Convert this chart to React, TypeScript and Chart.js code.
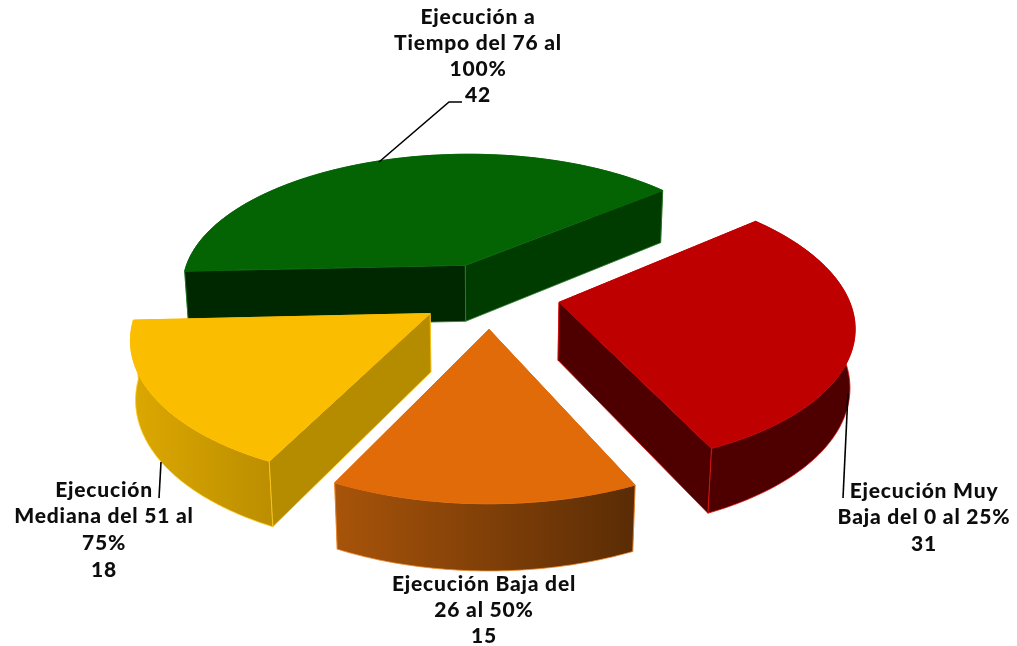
import React, { useEffect, useRef } from "react";
import { Chart, registerables } from "chart.js";

Chart.register(...registerables);

const categories = ["Ejecución Muy Baja del 0 al 25%", "Ejecución Baja del 26 al 50%", "Ejecución Mediana del 51 al 75%", "Ejecución a Tiempo del 76 al 100%"];
const values = [31, 15, 18, 42];
const topColors = ["#BE0000", "#E26B09", "#FBBD00", "#046404"];
const edgeColors = ["#E01010", "#F08A30", "#FFC91A", "#2E7D2E"];
const wallFrom = ["#4E0000", "#A8540A", "#DCA800", "#003000"];
const wallTo = ["#4E0000", "#5A2C05", "#BC8E00", "#003000"];
const startFaceColors = ["#4A0000", "#5A2C05", "#B58B00", "#002800"];
const endFaceColors = ["#4E0000", "#A8540A", "#B58B00", "#003C00"];
const labelLines = [
  ["Ejecución Muy", "Baja del 0 al 25%", "31"],
  ["Ejecución Baja del", "26 al 50%", "15"],
  ["Ejecución", "Mediana del 51 al", "75%", "18"],
  ["Ejecución a", "Tiempo del 76 al", "100%", "42"],
];
const labelAnchors = [
  { x: 924, y: 491, lh: 26.5 },
  { x: 484, y: 584, lh: 26 },
  { x: 104, y: 490, lh: 26.7 },
  { x: 478, y: 17, lh: 26 },
];
const leaders = [
  [[848, 393], [843, 498]],
  [],
  [[161, 462], [159, 498]],
  [[379, 162], [449, 102], [462, 102]],
];

const CAM = { cx: 490, cy: 295, world: 288.5, D: 1680, s: 0.472, c: 0.885, h: 66, converge: 0.75 };

function project(X: number, Y: number, Z: number) {
  const d = Y * CAM.c - Z * CAM.s * CAM.converge;
  const p = CAM.D / (CAM.D + d);
  return { x: CAM.cx + X * p, y: CAM.cy - (Y * CAM.s + Z * CAM.c) * p };
}

function tracePoly(ctx: CanvasRenderingContext2D, pts: { x: number; y: number }[]) {
  ctx.beginPath();
  pts.forEach((pt, i) => (i ? ctx.lineTo(pt.x, pt.y) : ctx.moveTo(pt.x, pt.y)));
  ctx.closePath();
}

const pie3d = {
  id: "pie3d",
  beforeDatasetsDraw(chart: any) {
    const ctx: CanvasRenderingContext2D = chart.ctx;
    const arcs: any[] = chart.getDatasetMeta(0).data;
    const items = arcs.map((arc, i) => {
      const scale = CAM.world / arc.outerRadius;
      const mid = (arc.startAngle + arc.endAngle) / 2;
      const off = arc.options.offset * scale;
      return { arc, i, ox: Math.cos(mid) * off, oy: -Math.sin(mid) * off, depth: -Math.sin(mid) };
    });
    items.sort((a, b) => b.depth - a.depth);
    for (const { arc, i, ox, oy } of items) {
      const steps = 90;
      const rim: { X: number; Y: number }[] = [];
      for (let k = 0; k <= steps; k++) {
        const a = arc.startAngle + ((arc.endAngle - arc.startAngle) * k) / steps;
        rim.push({ X: ox + Math.cos(a) * CAM.world, Y: oy - Math.sin(a) * CAM.world });
      }
      const top = rim.map((q) => project(q.X, q.Y, 0));
      const bottom = rim.map((q) => project(q.X, q.Y, -CAM.h));
      const apexTop = project(ox, oy, 0);
      const apexBottom = project(ox, oy, -CAM.h);
      ctx.save();
      ctx.lineJoin = "round";
      ctx.lineWidth = 0.8;

      const faces = [
        { a: top[0], b: bottom[0], color: startFaceColors[i], ny: -Math.sin(arc.startAngle - Math.PI / 2) },
        { a: top[steps], b: bottom[steps], color: endFaceColors[i], ny: -Math.sin(arc.endAngle + Math.PI / 2) },
      ];
      const drawFace = (f: (typeof faces)[number]) => {
        ctx.fillStyle = f.color;
        ctx.strokeStyle = edgeColors[i];
        tracePoly(ctx, [apexTop, f.a, f.b, apexBottom]);
        ctx.fill();
        ctx.stroke();
      };

      // faces turned away from the viewer go behind the curved wall
      faces.filter((f) => f.ny >= 0).forEach(drawFace);

      // outer curved wall
      const xs = top.concat(bottom).map((q) => q.x);
      const grad = ctx.createLinearGradient(Math.min(...xs), 0, Math.max(...xs), 0);
      grad.addColorStop(0, wallFrom[i]);
      grad.addColorStop(1, wallTo[i]);
      ctx.fillStyle = grad;
      ctx.strokeStyle = edgeColors[i];
      tracePoly(ctx, top.concat(bottom.slice().reverse()));
      ctx.fill();
      ctx.stroke();

      faces.filter((f) => f.ny < 0).forEach(drawFace);

      // top face
      ctx.fillStyle = topColors[i];
      tracePoly(ctx, [apexTop, ...top]);
      ctx.fill();
      ctx.strokeStyle = topColors[i];
      ctx.stroke();
      ctx.restore();
    }
    return false;
  },
  afterDraw(chart: any) {
    const ctx: CanvasRenderingContext2D = chart.ctx;
    ctx.save();
    ctx.strokeStyle = "#000000";
    ctx.lineWidth = 1.6;
    for (const line of leaders) {
      if (!line.length) continue;
      ctx.beginPath();
      line.forEach((pt, k) => (k ? ctx.lineTo(pt[0], pt[1]) : ctx.moveTo(pt[0], pt[1])));
      ctx.stroke();
    }
    ctx.fillStyle = "#0D0D0D";
    ctx.font = "900 21px Lato";
    (ctx as any).letterSpacing = "0.8px";
    ctx.textAlign = "center";
    ctx.textBaseline = "middle";
    labelLines.forEach((lines, i) => {
      const anchor = labelAnchors[i];
      lines.forEach((text, k) => ctx.fillText(text, anchor.x, anchor.y + k * anchor.lh));
    });
    ctx.restore();
  },
};

export default function App() {
  const ref = useRef<HTMLCanvasElement>(null);
  useEffect(() => {
    const chart = new Chart(ref.current as HTMLCanvasElement, {
      type: "pie",
      data: {
        labels: categories,
        datasets: [{ data: values, backgroundColor: topColors, borderWidth: 0, offset: 70 }],
      },
      options: {
        animation: false,
        responsive: false,
        rotation: 50,
        plugins: { legend: { display: false }, tooltip: { enabled: false } },
      },
      plugins: [pie3d],
    } as any);
    return () => chart.destroy();
  }, []);
  return (
    <canvas
      ref={ref}
      width={1017}
      height={646}
      style={{ position: "absolute", left: 0, top: 0, display: "block", background: "#FFFFFF" }}
    />
  );
}
